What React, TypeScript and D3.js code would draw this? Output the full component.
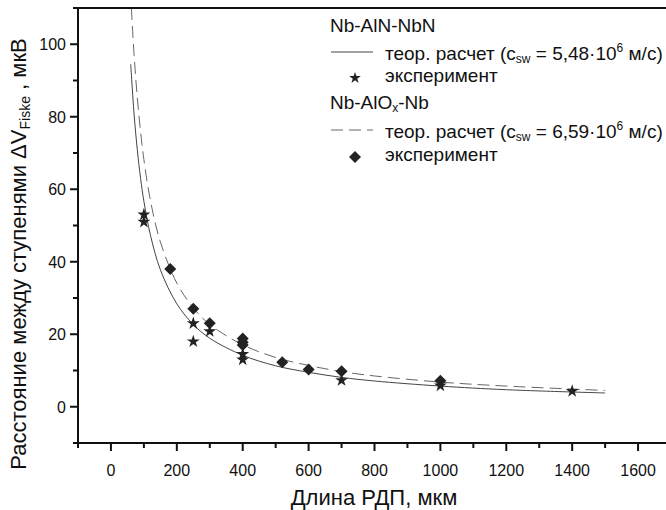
import * as d3 from 'd3';
import React from 'react';

// theoretical curves (ΔV in мкВ vs length in мкм)
const theoryL_AlN = [60, 70, 80, 90, 100, 120, 150, 200, 250, 300, 400, 500, 600, 700, 800, 1000, 1200, 1500];
const theoryV_AlN = [94.5, 81, 70.9, 63, 56.7, 47.3, 37.8, 28.4, 22.7, 18.9, 14.2, 11.3, 9.5, 8.1, 7.1, 5.7, 4.7, 3.8];
const theoryL_AlOx = [62, 70, 80, 90, 100, 120, 150, 200, 250, 300, 400, 500, 600, 700, 800, 1000, 1200, 1500];
const theoryV_AlOx = [110, 97.4, 85.3, 75.8, 68.2, 56.8, 45.5, 34.1, 27.3, 22.7, 17.1, 13.6, 11.4, 9.7, 8.5, 6.8, 5.7, 4.5];

// experiment, Nb-AlN-NbN (stars)
const expL_AlN = [100, 100, 250, 250, 300, 400, 400, 700, 1000, 1400];
const expV_AlN = [53, 51, 23, 18, 20.8, 14.5, 13, 7.3, 5.8, 4.3];
// experiment, Nb-AlOx-Nb (diamonds)
const expL_AlOx = [180, 250, 300, 400, 400, 400, 520, 600, 700, 1000];
const expV_AlOx = [38, 27, 23, 18.8, 17.8, 17, 12.3, 10.3, 9.8, 7.2];

const xMajor = [0, 200, 400, 600, 800, 1000, 1200, 1400, 1600];
const yMajor = [0, 20, 40, 60, 80, 100];

const W = 666, H = 510;
const p = { left: 78, right: 671, top: 8, bottom: 443 };
const font = '"Liberation Sans", Arial, sans-serif';
const ink = '#111';

export default function App() {
  const x = d3.scaleLinear().domain([-100, 1700]).range([p.left, p.right]);
  const y = d3.scaleLinear().domain([-10, 110]).range([p.bottom, p.top]);

  const xMinor = d3.range(-100, 1701, 100).filter(v => !xMajor.includes(v));
  const yMinor = d3.range(-10, 111, 10).filter(v => !yMajor.includes(v));

  const line = d3.line<[number, number]>()
    .x(d => x(d[0]))
    .y(d => y(d[1]))
    .curve(d3.curveCatmullRom);

  const solidPath = line(theoryL_AlN.map((l, i) => [l, theoryV_AlN[i]]) as [number, number][]) || '';
  const dashPath = line(theoryL_AlOx.map((l, i) => [l, theoryV_AlOx[i]]) as [number, number][]) || '';

  const star = d3.symbol().type(d3.symbolStar).size(52)() || '';
  const diamond = d3.symbol().type(d3.symbolSquare).size(72)() || '';
  const starSmall = d3.symbol().type(d3.symbolStar).size(42)() || '';

  const lg = { x0: 331, x1: 373, tx: 385 };

  return (
    <div style={{ position: 'absolute', left: 0, top: 0 }}>
      <svg width={W} height={H} style={{ display: 'block', background: '#fff' }} fontFamily={font}>
        {/* curves */}
        <path d={solidPath} fill="none" stroke="#444" strokeWidth={1} />
        <path d={dashPath} fill="none" stroke="#666" strokeWidth={1} strokeDasharray="12,6" />

        {/* markers */}
        {expL_AlOx.map((l, i) => (
          <path key={'d' + i} d={diamond} fill="#222"
            transform={`translate(${x(l)},${y(expV_AlOx[i])}) rotate(45)`} />
        ))}
        {expL_AlN.map((l, i) => (
          <path key={'s' + i} d={star} fill="#222"
            transform={`translate(${x(l)},${y(expV_AlN[i])})`} />
        ))}

        {/* frame */}
        <line x1={p.left} x2={p.left} y1={p.top} y2={p.bottom + 1} stroke={ink} strokeWidth={2} />
        <line x1={p.left - 1} x2={p.right} y1={p.bottom} y2={p.bottom} stroke={ink} strokeWidth={2} />
        <line x1={p.left - 1} x2={p.right} y1={p.top} y2={p.top} stroke={ink} strokeWidth={2} />
        <line x1={p.right} x2={p.right} y1={p.top} y2={p.bottom} stroke={ink} strokeWidth={2} />

        {/* x ticks */}
        {xMajor.map(v => (
          <g key={'xm' + v}>
            <line x1={x(v)} x2={x(v)} y1={p.bottom} y2={p.bottom + 8} stroke={ink} strokeWidth={2} />
            <text x={x(v)} y={476} textAnchor="middle" fontSize={16} fill={ink}>{v}</text>
          </g>
        ))}
        {xMinor.map(v => (
          <line key={'xn' + v} x1={x(v)} x2={x(v)} y1={p.bottom} y2={p.bottom + 5} stroke={ink} strokeWidth={2} />
        ))}

        {/* y ticks */}
        {yMajor.map(v => (
          <g key={'ym' + v}>
            <line x1={p.left} x2={p.left - 8} y1={y(v)} y2={y(v)} stroke={ink} strokeWidth={2} />
            <text x={p.left - 12} y={y(v) + 5.8} textAnchor="end" fontSize={16} fill={ink}>{v}</text>
          </g>
        ))}
        {yMinor.map(v => (
          <line key={'yn' + v} x1={p.left} x2={p.left - 5} y1={y(v)} y2={y(v)} stroke={ink} strokeWidth={2} />
        ))}

        {/* axis titles */}
        <text x={374} y={505} textAnchor="middle" fontSize={22} fill={ink}>Длина РДП, мкм</text>
        <text transform={`translate(26,254) rotate(-90)`} textAnchor="middle" fontSize={22} fill={ink}>
          Расстояние между ступенями ΔV<tspan fontSize={14} dy={4}>Fiske</tspan><tspan dy={-4}> , мкВ</tspan>
        </text>

        {/* legend */}
        <g fontSize={19} fill={ink}>
          <text x={330} y={32}>Nb-AlN-NbN</text>
          <line x1={lg.x0} x2={lg.x1} y1={52} y2={52} stroke="#444" strokeWidth={1} />
          <text x={lg.tx} y={60}>
            теор. расчет (c<tspan fontSize={12} dy={3}>sw</tspan><tspan dy={-3}> = 5,48·10</tspan><tspan fontSize={12} dy={-8}>6</tspan><tspan dy={8}> м/с)</tspan>
          </text>
          <path d={starSmall} fill="#222" transform={`translate(355,78)`} />
          <text x={lg.tx} y={82}>эксперимент</text>

          <text x={330} y={109}>Nb-AlO<tspan fontSize={12} dy={3}>x</tspan><tspan dy={-3}>-Nb</tspan></text>
          <line x1={lg.x0} x2={lg.x1} y1={130} y2={130} stroke="#666" strokeWidth={1} strokeDasharray="12,6" />
          <text x={lg.tx} y={138}>
            теор. расчет (c<tspan fontSize={12} dy={3}>sw</tspan><tspan dy={-3}> = 6,59·10</tspan><tspan fontSize={12} dy={-8}>6</tspan><tspan dy={8}> м/с)</tspan>
          </text>
          <path d={diamond} fill="#222" transform={`translate(355,157) rotate(45)`} />
          <text x={lg.tx} y={161}>эксперимент</text>
        </g>
      </svg>
    </div>
  );
}
